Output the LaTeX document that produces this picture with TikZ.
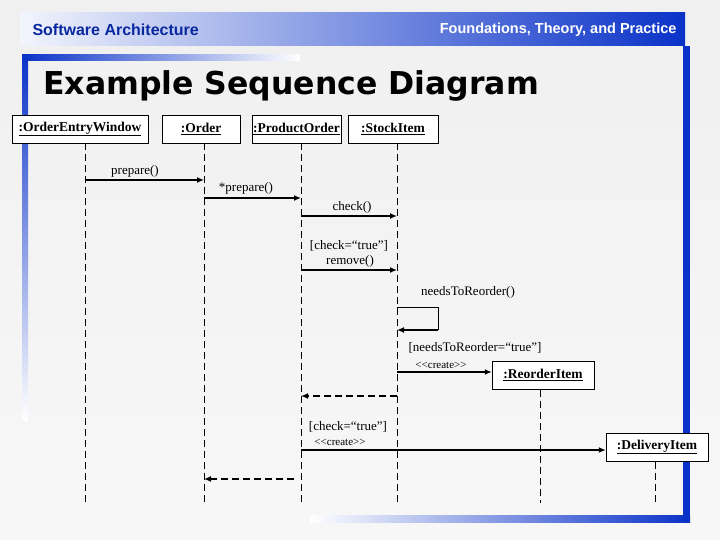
\documentclass[tikz,border=0pt]{standalone}
\usepackage{fontspec}
\setmainfont{Liberation Serif}
\newfontfamily\hdr{Liberation Sans}
\newfontfamily\ttl{DejaVu Sans}
\usetikzlibrary{arrows.meta}
\definecolor{bl}{RGB}{10,50,200}
\newcommand{\crt}{<\kern0pt<create>\kern0pt>}
\begin{document}
\begin{tikzpicture}[x=1pt,y=-1pt,
  obj/.style={draw,fill=white,inner sep=0pt,minimum height=28,font=\fontsize{13.5}{14}\selectfont\bfseries},
  life/.style={dash pattern=on 7pt off 4pt,line width=0.8pt},
  msg/.style={line width=1.6pt,-{Latex[length=7pt,width=6pt]}},
  ret/.style={line width=1.6pt,dash pattern=on 7pt off 4pt,-{Latex[length=7pt,width=6pt]}},
  lbl/.style={font=\fontsize{13}{13}\selectfont,inner sep=1pt},
  st/.style={font=\fontsize{11}{11}\selectfont,inner sep=1pt}]
\useasboundingbox (0,0) rectangle (720,540);
\fill[top color=gray!12,bottom color=gray!6] (0,0) rectangle (720,540);
% frame
\fill[left color=bl!5,right color=bl] (20,13) rectangle (685,46);
\fill[top color=bl,bottom color=bl!0] (22,55) rectangle (28,420);
\fill[left color=bl,right color=bl!0] (22,55) rectangle (300,61);
\fill[left color=bl!0,right color=bl] (310,515) rectangle (690,522);
\fill[bl] (683,46) rectangle (690,522);
\node[font=\hdr\fontsize{16}{16}\selectfont\bfseries,text=bl!80!black,anchor=west] (h1) at (29,30) {Software Architecture};
\node[font=\hdr\fontsize{14.5}{15}\selectfont\bfseries,text=white,anchor=east] (h2) at (680,30) {Foundations, Theory, and Practice};
\node[font=\ttl\fontsize{31.5}{32}\selectfont\bfseries,anchor=west,inner sep=0pt] (t) at (43,86) {Example Sequence Diagram};
% objects
\node[obj,minimum width=136] (oew) at (80,129) {\underline{:OrderEntryWindow}};
\node[obj,minimum width=78] (ord) at (201,129) {\underline{:Order}};
\node[obj,minimum width=89] (po) at (296.5,129) {\underline{:ProductOrder}};
\node[obj,minimum width=90] (si) at (393,129) {\underline{:StockItem}};
\node[obj,minimum width=102] (ri) at (543,375) {\underline{:ReorderItem}};
\node[obj,minimum width=102] (di) at (657,447) {\underline{:DeliveryItem}};
% lifelines
\coordinate (e1) at (85,503); \coordinate (e2) at (204,503);
\coordinate (e3) at (301,503); \coordinate (e4) at (397,503);
\coordinate (e5) at (540,503); \coordinate (e6) at (655,503);
\draw[life] (85,143) -- (e1);
\draw[life] (204,143) -- (e2);
\draw[life] (301,143) -- (e3);
\draw[life] (397,143) -- (e4);
\draw[life] (540,390) -- (e5);
\draw[life] (655,462) -- (e6);
% messages
\draw[msg] (85,180) -- (204,180);
\node[lbl] at (135,171) {prepare()};
\draw[msg] (204,198) -- (301,198);
\node[lbl] at (246,188) {*prepare()};
\draw[msg] (301,216) -- (397,216);
\node[lbl] at (352,207) {check()};
\draw[msg] (301,270) -- (397,270);
\node[lbl] at (349,246) {[check=“true”]};
\node[lbl] at (350,261) {remove()};
\node[lbl] at (468,292) {needsToReorder()};
\draw[line width=0.8pt] (397,307) -- (438,307) -- (438,330);
\draw[msg] (438,330) -- (397,330);
\node[lbl] at (475,348) {[needsToReorder=“true”]};
\node[st] at (441,365) {\crt};
\draw[msg] (397,372) -- (ri.west |- 0,372);
\draw[ret] (397,396) -- (301,396);
\node[lbl] at (348,427) {[check=“true”]};
\node[st] at (340,442) {\crt};
\draw[msg] (301,450) -- (di.west |- 0,450);
\draw[ret] (294,479) -- (204,479);
\end{tikzpicture}
\end{document}
